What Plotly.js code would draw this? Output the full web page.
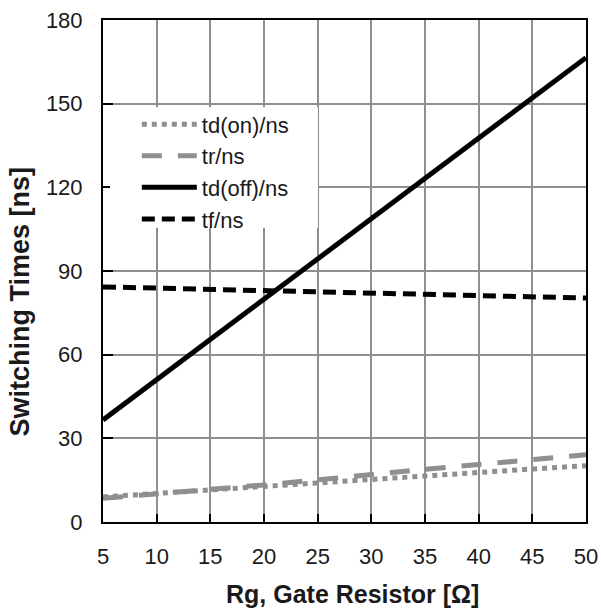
<!DOCTYPE html>
<html>
<head>
<meta charset="utf-8">
<script src="https://cdn.plot.ly/plotly-3.0.1.min.js"></script>
<style>html,body{margin:0;padding:0;background:#fff;}#chart{width:601px;height:612px;}</style>
</head>
<body>
<div id="chart"></div>
<script>
const rg = [5, 10, 15, 20, 25, 30, 35, 40, 45, 50];
const tdOn = [9.0, 10.3, 11.6, 12.9, 14.1, 15.4, 16.6, 17.8, 19.0, 20.2];
const tr = [8.5, 10.0, 11.6, 13.3, 15.1, 17.1, 18.9, 20.6, 22.4, 24.1];
const tdOff = [36.6, 51.0, 65.5, 79.9, 94.4, 108.8, 123.2, 137.7, 152.1, 166.5];
const tf = [84.3, 83.9, 83.4, 83.0, 82.5, 82.1, 81.7, 81.2, 80.8, 80.3];
const xTicks = [5, 10, 15, 20, 25, 30, 35, 40, 45, 50];
const yTicks = [0, 30, 60, 90, 120, 150, 180];
const names = ['td(on)/ns', 'tr/ns', 'td(off)/ns', 'tf/ns'];
const xTitle = 'Rg, Gate Resistor [Ω]';
const yTitle = 'Switching Times [ns]';

const gray = '#8f8f8f';
const traces = [
  {x: rg, y: tdOn, name: names[0], mode: 'lines', line: {color: gray, width: 5, dash: '5px,5px'}},
  {x: rg, y: tr, name: names[1], mode: 'lines', line: {color: gray, width: 5, dash: '20px,16px'}},
  {x: rg, y: tdOff, name: names[2], mode: 'lines', line: {color: '#000', width: 5}},
  {x: rg, y: tf, name: names[3], mode: 'lines', line: {color: '#000', width: 5, dash: '13px,7px'}}
];

const fam = 'Liberation Sans, Arial, sans-serif';
const txt = '#1a1a1a';
const layout = {
  width: 601, height: 612,
  margin: {l: 103, r: 15, t: 20, b: 90},
  paper_bgcolor: '#fff', plot_bgcolor: '#fff',
  showlegend: true,
  font: {family: fam, color: txt},
  xaxis: {
    range: [5, 50], tickvals: xTicks, ticktext: xTicks.map(String),
    showgrid: true, gridcolor: gray, gridwidth: 2,
    showline: true, linecolor: '#000', linewidth: 2, mirror: true,
    ticks: 'inside', ticklen: 8, tickwidth: 2, tickcolor: '#000',
    ticklabelstandoff: 14,
    tickfont: {family: fam, size: 22, color: txt},
    zeroline: false,
    title: {text: ''}
  },
  yaxis: {
    range: [0, 180], tickvals: yTicks, ticktext: yTicks.map(String),
    showgrid: true, gridcolor: gray, gridwidth: 2,
    showline: true, linecolor: '#000', linewidth: 2, mirror: true,
    ticks: 'inside', ticklen: 10, tickwidth: 2, tickcolor: '#000',
    ticklabelstandoff: 14,
    tickfont: {family: fam, size: 22, color: txt},
    zeroline: false,
    title: {text: ''}
  },
  annotations: [{
    text: '<b>' + yTitle + '</b>', textangle: -90,
    xref: 'paper', yref: 'paper', x: -0.171, y: 0.44,
    xanchor: 'center', yanchor: 'middle', showarrow: false,
    font: {family: fam, size: 27, color: txt}
  }, {
    text: '<b>' + xTitle + '</b>',
    xref: 'paper', yref: 'paper', x: 0.516, y: -0.143,
    xanchor: 'center', yanchor: 'middle', showarrow: false,
    font: {family: fam, size: 25, color: txt}
  }],
  shapes: [{
    type: 'rect', xref: 'paper', yref: 'paper', layer: 'above',
    x0: 0.0145, x1: 0.445, y0: 0.586, y1: 0.826,
    fillcolor: '#fff', line: {width: 0}
  }],
  legend: {
    x: 0.07, y: 0.834, xanchor: 'left', yanchor: 'top',
    bgcolor: 'rgba(0,0,0,0)', borderwidth: 0,
    tracegroupgap: 0,
    itemwidth: 55,
    font: {family: fam, size: 22, color: txt}
  }
};

Plotly.newPlot('chart', traces, layout, {displayModeBar: false, staticPlot: true});
</script>
</body>
</html>
